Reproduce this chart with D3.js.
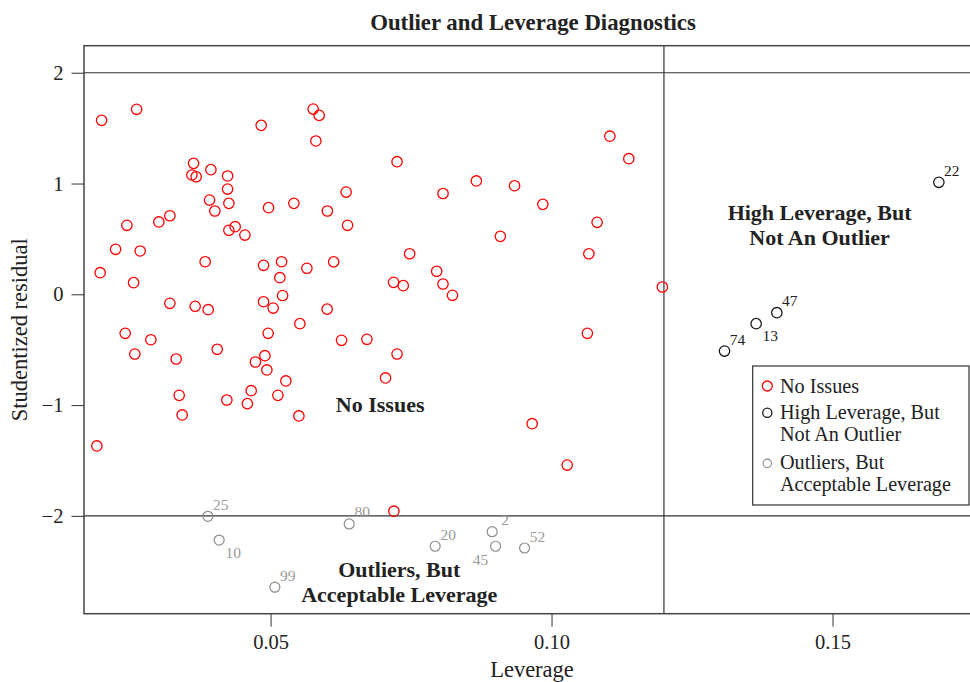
<!DOCTYPE html>
<html>
<head>
<meta charset="utf-8">
<script src="https://cdn.jsdelivr.net/npm/d3@7/dist/d3.min.js"></script>
<style>
  html, body { margin: 0; padding: 0; background: #fff; }
  svg { display: block; }
  text { font-family: "Liberation Serif", "Times New Roman", serif; }
</style>
</head>
<body>
<svg id="chart" width="970" height="682"></svg>
<script>
// Observations with no diagnostic issues: leverage (hat value) and studentized residual
const noIssuesLeverage = [
  0.01993, 0.02616, 0.04833, 0.05758, 0.05865, 0.05806, 0.03630, 0.03600, 0.03676, 0.03938,
  0.04235, 0.04235, 0.03915, 0.04009, 0.04258, 0.04964, 0.05415, 0.06011, 0.03208, 0.03012,
  0.02443, 0.04258, 0.04370, 0.04543, 0.02242, 0.02680, 0.03836, 0.04875, 0.05196, 0.05646,
  0.01968, 0.02562, 0.05165, 0.05214, 0.03208, 0.03658, 0.03890, 0.04875, 0.05046, 0.05521,
  0.02413, 0.02870, 0.04957, 0.02585, 0.03320, 0.04050, 0.04899, 0.04730, 0.04934, 0.05272,
  0.03374, 0.04222, 0.04655, 0.04587, 0.05130, 0.03427, 0.05504, 0.01909, 0.07251, 0.11037,
  0.11375, 0.06345, 0.08069, 0.08662, 0.09342, 0.09845, 0.06370, 0.10811, 0.09089, 0.10664,
  0.07475, 0.06123, 0.07956, 0.07189, 0.07361, 0.08068, 0.08237, 0.11972, 0.06007, 0.10637,
  0.06263, 0.06714, 0.07251, 0.07046, 0.09655, 0.10278, 0.07194
];
const noIssuesResidual = [
  1.570, 1.670, 1.525, 1.672, 1.615, 1.384, 1.182, 1.077, 1.061, 1.125,
  1.068, 0.950, 0.851, 0.752, 0.821, 0.782, 0.821, 0.752, 0.709, 0.653,
  0.623, 0.578, 0.610, 0.535, 0.406, 0.391, 0.294, 0.262, 0.294, 0.235,
  0.195, 0.105, 0.150, -0.011, -0.081, -0.108, -0.139, -0.067, -0.124, -0.265,
  -0.352, -0.410, -0.352, -0.539, -0.584, -0.496, -0.554, -0.611, -0.683, -0.782,
  -0.912, -0.954, -0.870, -0.987, -0.912, -1.089, -1.098, -1.369, 1.197, 1.427,
  1.224, 0.923, 0.910, 1.023, 0.980, 0.812, 0.623, 0.650, 0.523, 0.366,
  0.366, 0.293, 0.208, 0.108, 0.078, 0.093, -0.009, 0.066, -0.134, -0.352,
  -0.415, -0.406, -0.539, -0.755, -1.168, -1.541, -1.958
];

// High leverage, but not an outlier
const highLeverageIds = [22, 47, 13, 74];
const highLeverageLeverage = [0.16892, 0.14009, 0.13641, 0.13078];
const highLeverageResidual = [1.011, -0.166, -0.265, -0.512];

// Outliers, but acceptable leverage
const outlierIds = [25, 10, 99, 80, 20, 2, 45, 52];
const outlierLeverage = [0.03884, 0.04085, 0.05076, 0.06399, 0.07929, 0.08943, 0.09004, 0.09520];
const outlierResidual = [-2.004, -2.218, -2.644, -2.073, -2.274, -2.143, -2.274, -2.290];

// Diagnostic cut-offs
const residualCutoffs = [-2, 2];
const leverageCutoff = 0.12;

// Axis ticks
const xTicks = [0.05, 0.10, 0.15];
const yTicks = [-2, -1, 0, 1, 2];

const groups = ["No Issues", "High Leverage, But\nNot An Outlier", "Outliers, But\nAcceptable Leverage"];
const groupColors = ["#ff0000", "#1a1a1a", "#8c8c8c"];
const ink = "#222";

const svg = d3.select("#chart");
const W = 970, H = 682;
const plot = { left: 84, top: 45.7, right: 982, bottom: 613.7 };

const x = d3.scaleLinear().domain([0.0168, 0.1766]).range([plot.left, plot.right]);
const y = d3.scaleLinear().domain([-2.883, 2.244]).range([plot.bottom, plot.top]);

// Title
svg.append("text")
  .attr("x", (plot.left + plot.right) / 2).attr("y", 30)
  .attr("text-anchor", "middle")
  .style("font-weight", "bold").style("font-size", "22.8px").style("fill", ink)
  .text("Outlier and Leverage Diagnostics");

// Cut-off reference lines
const refG = svg.append("g").attr("stroke", "#333").attr("stroke-width", 1.2);
refG.selectAll("line.h").data(residualCutoffs).join("line")
  .attr("class", "h")
  .attr("x1", plot.left).attr("x2", plot.right)
  .attr("y1", d => y(d)).attr("y2", d => y(d));
refG.append("line")
  .attr("x1", x(leverageCutoff)).attr("x2", x(leverageCutoff))
  .attr("y1", plot.top).attr("y2", plot.bottom);

// Plot frame
svg.append("rect")
  .attr("x", plot.left).attr("y", plot.top)
  .attr("width", plot.right - plot.left).attr("height", plot.bottom - plot.top)
  .attr("fill", "none").attr("stroke", "#444").attr("stroke-width", 1.5);

// Axes
const xAxis = d3.axisBottom(x).tickValues(xTicks).tickFormat(d3.format(".2f"))
  .tickSizeInner(13).tickSizeOuter(0).tickPadding(8);
const gx = svg.append("g").attr("transform", `translate(0,${plot.bottom})`).call(xAxis);
gx.select(".domain").remove();
gx.selectAll(".tick line").attr("stroke", "#333");
gx.selectAll(".tick text").style("font-family", "Liberation Serif, serif")
  .style("font-size", "20.5px").style("fill", ink);

const yAxis = d3.axisLeft(y).tickValues(yTicks).tickFormat(d3.format("d"))
  .tickSizeInner(12.5).tickSizeOuter(0).tickPadding(8);
const gy = svg.append("g").attr("transform", `translate(${plot.left},0)`).call(yAxis);
gy.select(".domain").remove();
gy.selectAll(".tick line").attr("stroke", "#333");
gy.selectAll(".tick text").style("font-family", "Liberation Serif, serif")
  .style("font-size", "20.5px").style("fill", ink);

// Axis titles
svg.append("text")
  .attr("x", (plot.left + plot.right) / 2 - 1).attr("y", 677)
  .attr("text-anchor", "middle").style("font-size", "22.5px").style("fill", ink)
  .text("Leverage");
svg.append("text")
  .attr("transform", `translate(27,${(plot.top + plot.bottom) / 2}) rotate(-90)`)
  .attr("text-anchor", "middle").style("font-size", "22.5px").style("fill", ink)
  .text("Studentized residual");

// Region annotations
const regionNotes = [
  { lines: ["No Issues"], lev: 0.0695, res: -1.0 },
  { lines: ["High Leverage, But", "Not An Outlier"], lev: 0.1477, res: 0.62 },
  { lines: ["Outliers, But", "Acceptable Leverage"], lev: 0.0729, res: -2.6 }
];
regionNotes.forEach(n => {
  const t = svg.append("text")
    .attr("text-anchor", "middle")
    .style("font-weight", "bold").style("font-size", "22px").style("fill", ink);
  const lh = 25.5;
  const y0 = y(n.res) - (n.lines.length - 1) * lh / 2 + 7;
  n.lines.forEach((ln, i) => {
    t.append("tspan").attr("x", x(n.lev)).attr("y", y0 + i * lh).text(ln);
  });
});

// Points
const pts = svg.append("g");
const noIssues = noIssuesLeverage.map((v, i) => ({ lev: v, res: noIssuesResidual[i] }));
const highLev = highLeverageIds.map((id, i) => ({ id, lev: highLeverageLeverage[i], res: highLeverageResidual[i] }));
const outliers = outlierIds.map((id, i) => ({ id, lev: outlierLeverage[i], res: outlierResidual[i] }));

pts.selectAll("circle.ok").data(noIssues).join("circle")
  .attr("class", "ok")
  .attr("cx", d => x(d.lev)).attr("cy", d => y(d.res)).attr("r", 5.2)
  .attr("fill", "none").attr("stroke", groupColors[0]).attr("stroke-width", 1.3);
pts.selectAll("circle.hl").data(highLev).join("circle")
  .attr("class", "hl")
  .attr("cx", d => x(d.lev)).attr("cy", d => y(d.res)).attr("r", 5.2)
  .attr("fill", "none").attr("stroke", groupColors[1]).attr("stroke-width", 1.3);
pts.selectAll("circle.out").data(outliers).join("circle")
  .attr("class", "out")
  .attr("cx", d => x(d.lev)).attr("cy", d => y(d.res)).attr("r", 5)
  .attr("fill", "none").attr("stroke", groupColors[2]).attr("stroke-width", 1.2);

// Point id labels: above-right by default, a few placed below to avoid overlaps
const labelOffset = {
  ur: [13, -12],
  lr: [14, 12],
  ll: [-15, 13]
};
const labelSide = { 10: "lr", 13: "lr", 45: "ll" };
function addLabels(data, color) {
  pts.selectAll(null).data(data).join("text")
    .attr("x", d => x(d.lev) + labelOffset[labelSide[d.id] || "ur"][0])
    .attr("y", d => y(d.res) + labelOffset[labelSide[d.id] || "ur"][1])
    .attr("text-anchor", "middle").attr("dominant-baseline", "central")
    .style("font-size", "15.5px").style("fill", color)
    .text(d => d.id);
}
addLabels(highLev, ink);
addLabels(outliers, "#9a9a9a");

// Legend
const lg = svg.append("g");
lg.append("rect")
  .attr("x", 752.7).attr("y", 366).attr("width", 216.3).attr("height", 139)
  .attr("fill", "#fff").attr("stroke", "#333").attr("stroke-width", 1.2);
const legendRows = [
  { r: 5.0, sw: 1.3, cy: 386, baselines: [393.3] },
  { r: 4.6, sw: 1.3, cy: 412.7, baselines: [419.3, 440.7] },
  { r: 4.2, sw: 1.1, cy: 463.3, baselines: [468.8, 491] }
];
groups.forEach((g, i) => {
  const row = legendRows[i];
  lg.append("circle").attr("cx", 767.3).attr("cy", row.cy).attr("r", row.r)
    .attr("fill", "none").attr("stroke", groupColors[i]).attr("stroke-width", row.sw);
  const t = lg.append("text").style("font-size", "20.2px").style("fill", ink);
  g.split("\n").forEach((ln, j) => {
    t.append("tspan").attr("x", 780).attr("y", row.baselines[j]).text(ln);
  });
});
</script>
</body>
</html>
